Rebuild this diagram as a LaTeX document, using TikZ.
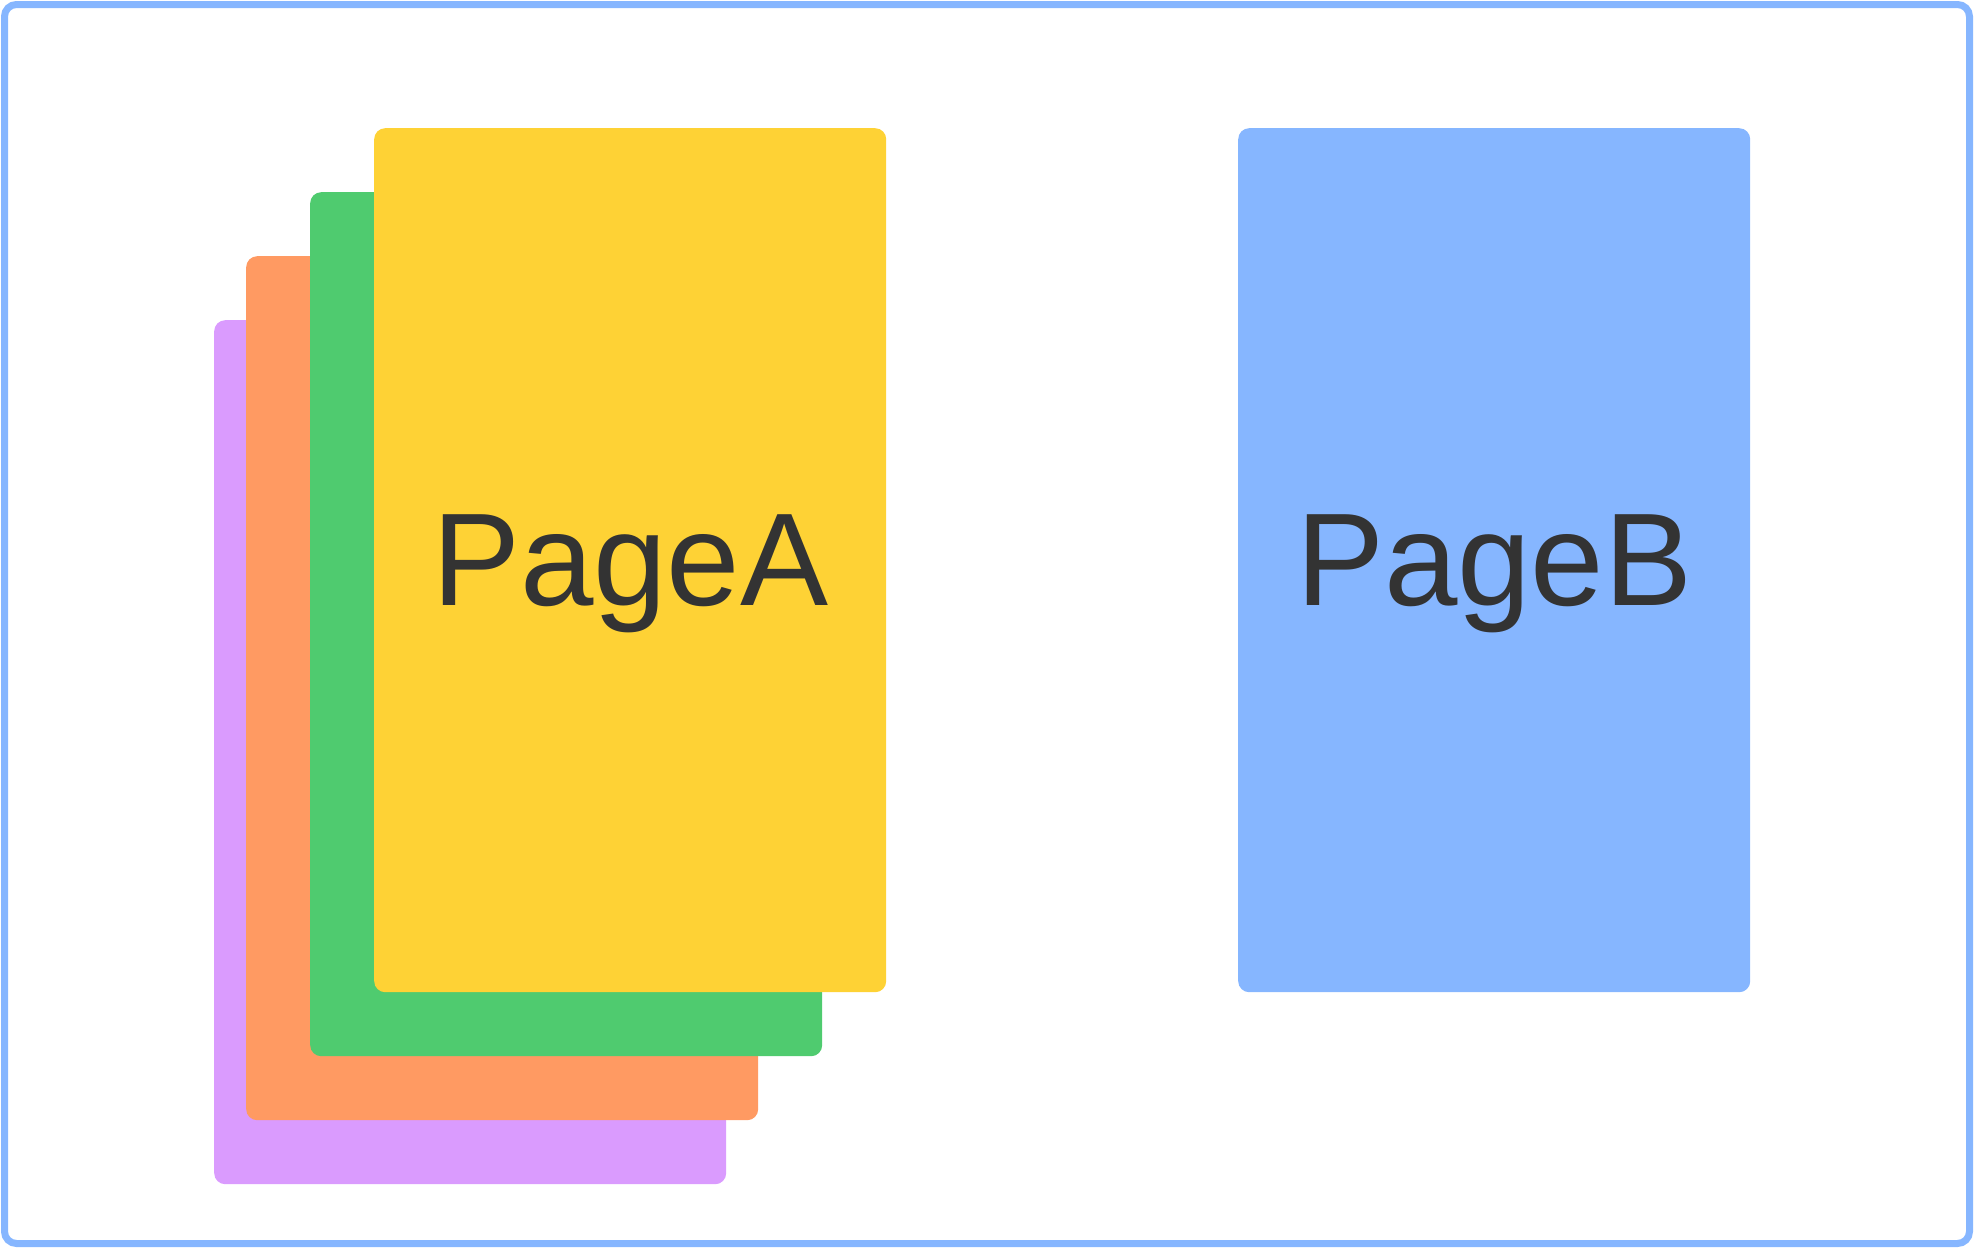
\documentclass[tikz,border=0pt]{standalone}
\usepackage{fontspec}
\setmainfont{Liberation Sans}
\definecolor{frameblue}{HTML}{86B6FF}
\definecolor{pyellow}{HTML}{FED235}
\definecolor{pgreen}{HTML}{4FCB6F}
\definecolor{porange}{HTML}{FF9A62}
\definecolor{ppurple}{HTML}{DA9BFE}
\definecolor{pblue}{HTML}{86B6FF}
\definecolor{txt}{HTML}{333333}
\tikzset{
  page/.style={rectangle, rounded corners=11pt, inner sep=0pt, draw=none,
    minimum width=512pt, minimum height=864pt, anchor=north west},
  pagelabel/.style={anchor=base, inner sep=0pt, text=txt,
    font=\fontsize{132pt}{150pt}\selectfont},
}
\begin{document}
\begin{tikzpicture}[x=1pt,y=-1pt]
  \useasboundingbox (0,0) rectangle (1974,1248);
  \draw[frameblue, line width=7pt, rounded corners=12pt] (4.5,4.5) rectangle (1969.5,1243.5);
  \node[page, fill=ppurple] (purple) at (214,320) {};
  \node[page, fill=porange] (orange) at (246,256) {};
  \node[page, fill=pgreen] (green) at (310,192) {};
  \node[page, fill=pyellow] (yellow) at (374,128) {};
  \node[page, fill=pblue] (pageb) at (1238,128) {};
  \node[pagelabel] (labela) at (yellow.center |- 0,605) {PageA};
  \node[pagelabel] (labelb) at (pageb.center |- 0,605) {PageB};
\end{tikzpicture}
\end{document}
